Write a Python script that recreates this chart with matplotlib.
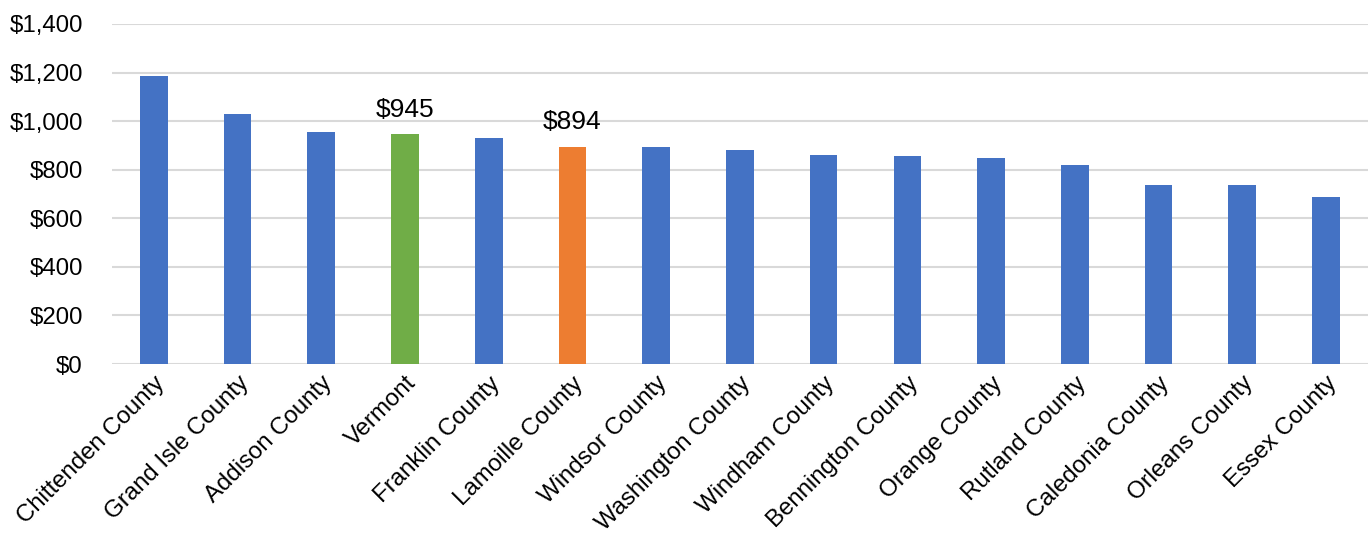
import matplotlib.pyplot as plt
from matplotlib.ticker import FuncFormatter

plt.rcParams['font.family'] = ['Liberation Sans', 'DejaVu Sans']

counties = ["Chittenden County", "Grand Isle County", "Addison County", "Vermont",
            "Franklin County", "Lamoille County", "Windsor County", "Washington County",
            "Windham County", "Bennington County", "Orange County", "Rutland County",
            "Caledonia County", "Orleans County", "Essex County"]
values = [1186, 1028, 956, 945, 931, 894, 892, 880, 862, 858, 847, 821, 738, 737, 687]
labelled = {"Vermont": "$945", "Lamoille County": "$894"}

BLUE, GREEN, ORANGE = "#4472C4", "#70AD47", "#ED7D31"
colors = [GREEN if c == "Vermont" else ORANGE if c == "Lamoille County" else BLUE
          for c in counties]

fig = plt.figure(figsize=(13.72, 5.38), dpi=100)
ax = fig.add_axes([0.0816, 0.3234, 0.9154, 0.632])

x = range(len(counties))
ax.bar(x, values, width=0.33, color=colors, zorder=3)

for i, (c, v) in enumerate(zip(counties, values)):
    if c in labelled:
        ax.annotate(labelled[c], (i, v), xytext=(0, 9), textcoords="offset points",
                    ha="center", va="bottom", fontsize=19)

ax.set_ylim(0, 1400)
ax.set_xlim(-0.5, len(counties) - 0.5)
ax.set_yticks(range(0, 1401, 200))
ax.yaxis.set_major_formatter(FuncFormatter(lambda v, p: f"${v:,.0f}"))
ax.grid(axis="y", color="#d9d9d9", linewidth=1.5, zorder=0)
ax.set_xticks(list(x))
ax.set_xticklabels(counties, rotation=45, ha="right", rotation_mode="anchor")
ax.tick_params(axis="both", length=0, labelsize=17.3)
ax.tick_params(axis="x", pad=6)
ax.tick_params(axis="y", pad=21)
for s in ax.spines.values():
    s.set_visible(False)

fig.savefig("out.png", dpi=100)
